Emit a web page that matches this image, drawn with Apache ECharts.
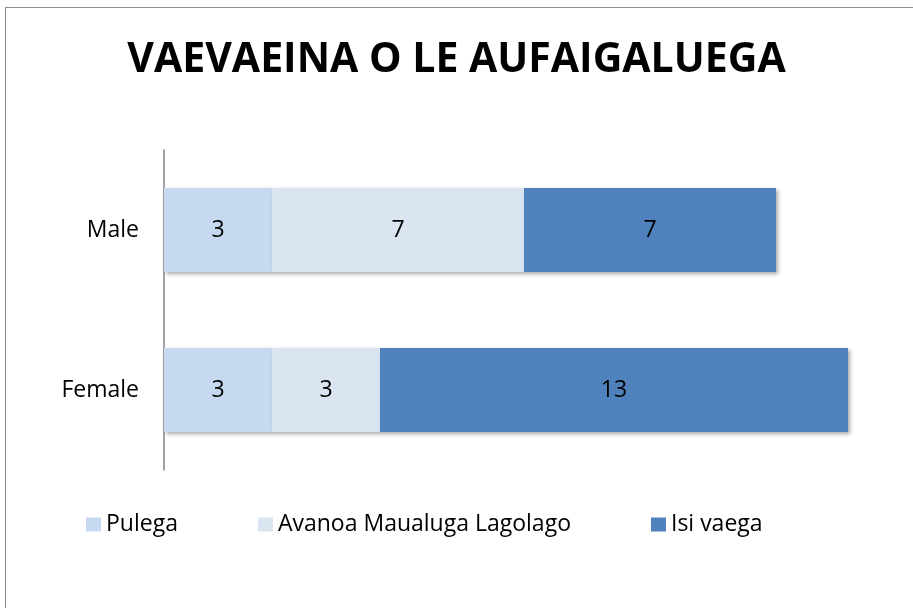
<!DOCTYPE html>
<html>
<head>
<meta charset="utf-8">
<script src="https://cdn.jsdelivr.net/npm/echarts@6/dist/echarts.min.js"></script>
<style>
  html, body { margin: 0; padding: 0; background: #fff; }
  #frame { position: absolute; left: 5px; top: 7px; width: 920px; height: 620px; border: 1.5px solid #8c8c8c; box-sizing: border-box; }
  #chart { position: absolute; left: 0; top: 0; width: 913px; height: 608px; }
</style>
</head>
<body>
<div id="frame"></div>
<div id="chart"></div>
<script>
var chart = echarts.init(document.getElementById('chart'));

// categories, bottom to top as echarts draws them
var categories = ['Female', 'Male'];
var seriesNames = ['Pulega', 'Avanoa Maualuga Lagolago', 'Isi vaega'];
var pulega = [3, 3];
var avanoa = [3, 7];
var isiVaega = [13, 7];
var colors = ['#c6d9f0', '#dbe5f1', '#4f81bd'];

var font = "'Open Sans', sans-serif";

function makeSeries(name, data, color) {
    return {
        name: name,
        type: 'bar',
        stack: 'total',
        data: data,
        barWidth: 84,
        itemStyle: {
            color: color,
            shadowColor: 'rgba(0,0,0,0.35)',
            shadowBlur: 4,
            shadowOffsetX: 2,
            shadowOffsetY: 2
        },
        label: {
            show: true,
            position: 'inside',
            color: '#000',
            fontFamily: font,
            fontSize: 23
        }
    };
}

var option = {
    backgroundColor: 'transparent',
    animation: false,
    title: {
        text: 'VAEVAEINA O LE AUFAIGALUEGA',
        left: 'center',
        top: 35,
        textStyle: {
            fontFamily: font,
            fontWeight: 'bold',
            fontSize: 41,
            color: '#000'
        }
    },
    legend: {
        left: 81,
        top: 508,
        itemWidth: 15,
        itemHeight: 14,
        itemGap: 80,
        icon: 'rect',
        data: seriesNames,
        textStyle: {
            fontFamily: font,
            fontSize: 23,
            color: '#000'
        }
    },
    grid: {
        left: 164,
        top: 150,
        width: 720,
        height: 320
    },
    xAxis: {
        type: 'value',
        min: 0,
        max: 20,
        show: false
    },
    yAxis: {
        type: 'category',
        data: categories,
        axisLine: { show: true, lineStyle: { color: '#868686', width: 1.5 } },
        axisTick: { show: false },
        axisLabel: {
            margin: 25,
            fontFamily: font,
            fontSize: 23,
            color: '#000'
        }
    },
    series: [
        makeSeries(seriesNames[0], pulega, colors[0]),
        makeSeries(seriesNames[1], avanoa, colors[1]),
        makeSeries(seriesNames[2], isiVaega, colors[2])
    ]
};
chart.setOption(option);
</script>
</body>
</html>
